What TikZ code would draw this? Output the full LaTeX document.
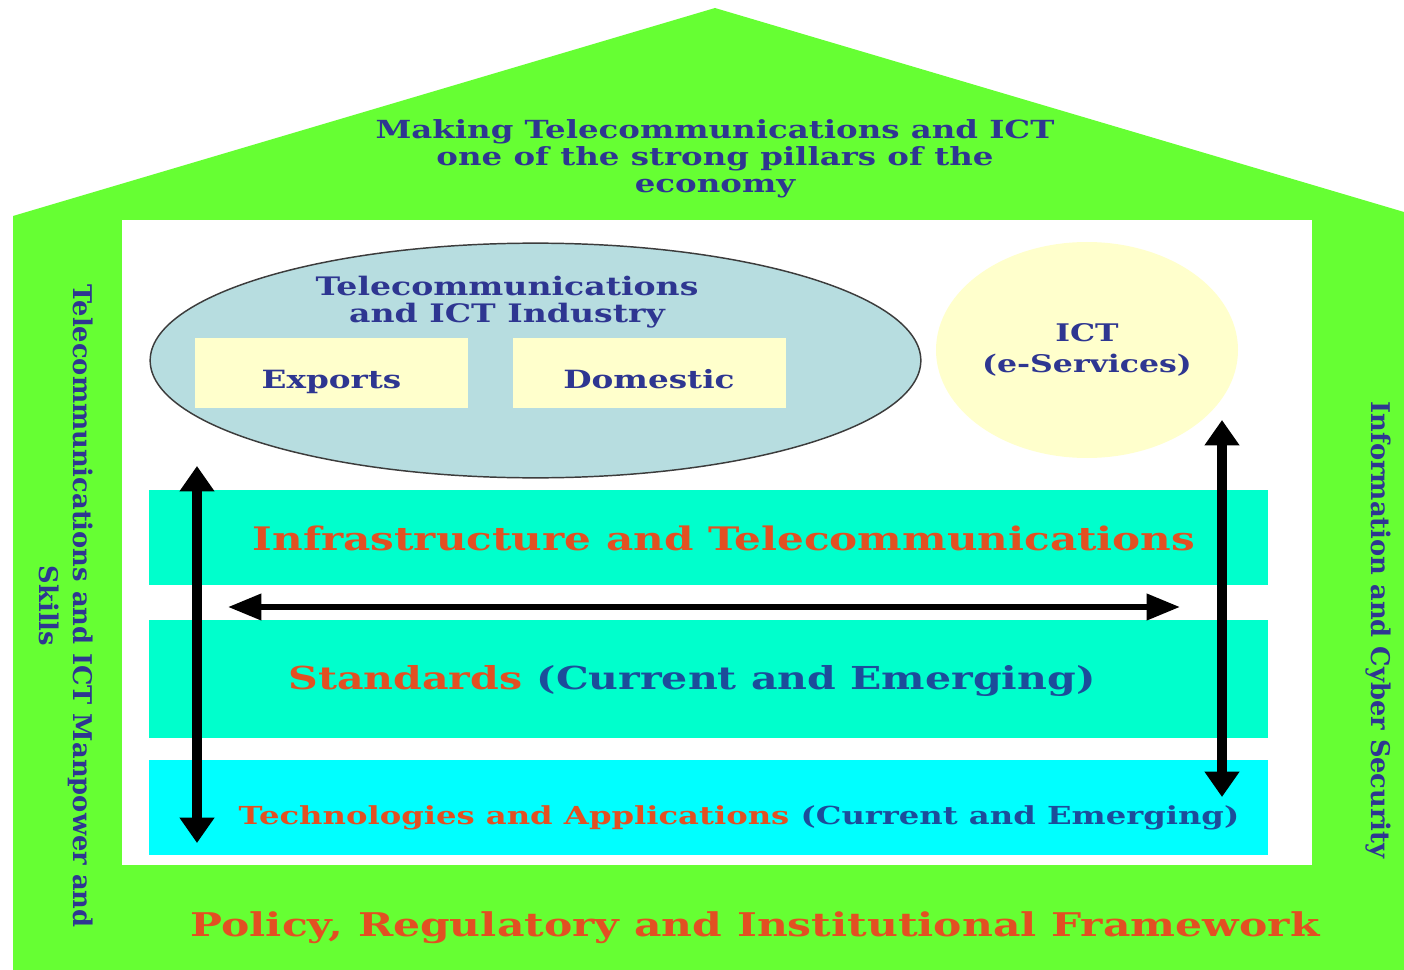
\documentclass[tikz,border=0pt]{standalone}
\usepackage{fontspec}
\setmainfont{DejaVu Serif}
\newfontfamily\widefont{DejaVu Serif}[FakeStretch=1.3]
\usetikzlibrary{arrows.meta,shapes.geometric}

\definecolor{housegreen}{RGB}{102,255,51}
\definecolor{navytext}{RGB}{46,54,145}
\definecolor{bluetext}{RGB}{28,77,154}
\definecolor{orangetext}{RGB}{226,80,34}
\definecolor{industryfill}{RGB}{183,221,224}
\definecolor{paleyellow}{RGB}{255,255,204}
\definecolor{aquaband}{RGB}{0,255,204}
\definecolor{cyanband}{RGB}{0,255,255}

\tikzset{every picture/.style={line width=0.75pt},
  txt/.style={inner sep=0.75pt, align=center, text=navytext},
  widetxt/.style={txt, font=\widefont\bfseries\fontsize{#1}{20.25}\selectfont},
  sidetxt/.style={txt, rotate=-90, font=\bfseries\fontsize{19.3}{26}\selectfont},
  band/.style={fill=#1, inner sep=0pt, minimum width=839.25pt},
  salesbox/.style={fill=paleyellow, inner sep=0pt, minimum width=204.75pt, minimum height=52.5pt,
    text height=22.5pt, text depth=0pt, widetxt=18.85},
  vlink/.style={line width=7pt, {Triangle[length=19pt,width=25pt]}-{Triangle[length=19pt,width=25pt]}},
  hlink/.style={line width=4.5pt, {Triangle[length=25pt,width=19pt]}-{Triangle[length=25pt,width=19pt]}}
}

\begin{document}
\begin{tikzpicture}[x=0.75pt,y=0.75pt,yscale=-1,xscale=1]
\useasboundingbox (0,0) rectangle (1404,970);

%Shape: house outline
\fill[housegreen] (13,970) -- (13,216) -- (715,8) -- (1404,212) -- (1404,970) -- cycle;
%Shape: inner room
\fill[white] (122,220) rectangle (1312,865);

%Shape: industry ellipse
\node (industry) [ellipse, draw={rgb,255:red,60;green,60;blue,60}, line width=1.1pt, fill=industryfill,
  minimum width=578pt, minimum height=176pt] at (535.5,360.5) {};
\node (exports) [salesbox] at (331.5,373) {Exports};
\node (domestic) [salesbox] at (649,373) {Domestic};
% Text Node
\node (industrytitle) [widetxt=19.1] at (507,302) {Telecommunications\\ and ICT Industry};

%Shape: e-services circle
\node (eservices) [ellipse, fill=paleyellow, inner sep=0pt, minimum width=226.5pt, minimum height=162pt,
  txt, font=\widefont\bfseries\fontsize{18.2}{23}\selectfont] at (1087,350) {ICT\\ (e-Services)};

%Shape: layer bands
\node (infraband) [band=aquaband, minimum height=71.25pt] at (708.5,537.5) {};
\node (stdband) [band=aquaband, minimum height=88.5pt] at (708.5,679) {};
\node (techband) [band=cyanband, minimum height=71.25pt] at (708.5,807.5) {};

% Text Node
\node (infra) [widetxt=24.3, text=orangetext] at (724,538) {Infrastructure and Telecommunications};
% Text Node
\node (std) [widetxt=23.7, text=bluetext] at (692,681) {\textcolor{orangetext}{Standards} (Current and Emerging)};
% Text Node
\node (tech) [widetxt=18.6, text=bluetext] at (739,818) {\textcolor{orangetext}{Technologies and Applications} (Current and Emerging)};

%Straight Lines: links between layers
\coordinate (ltop) at (197,466);
\coordinate (lbot) at (197,843);
\coordinate (hleft) at (228,607);
\coordinate (hright) at (1180,607);
\coordinate (rtop) at (1222,420);
\coordinate (rbot) at (1222,797);
\draw [vlink] (ltop) -- (lbot);
\draw [hlink] (hleft) -- (hright);
\draw [vlink] (rtop) -- (rbot);

% Text Node
\node (goal) [widetxt=18.7] at (715,159) {Making Telecommunications and ICT\\ one of the strong pillars of the\\ economy};
% Text Node
\node (manpower) [sidetxt] at (66,606) {Telecommunications and ICT Manpower and\\ Skills};
% Text Node
\node (security) [sidetxt] at (1378,630) {Information and Cyber Security};
% Text Node
\node (policy) [widetxt=24.5, text=orangetext] at (755,928) {Policy, Regulatory and Institutional Framework};

\end{tikzpicture}
\end{document}
